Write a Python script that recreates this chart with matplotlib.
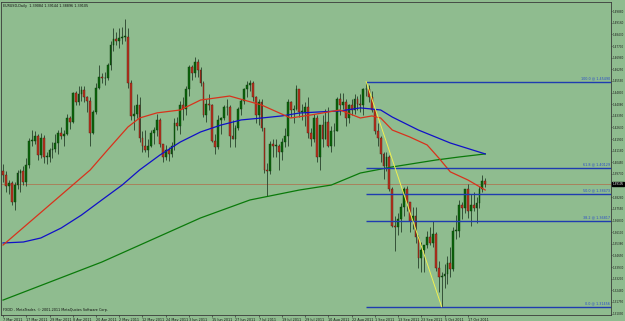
# EURUSD daily candles (MetaTrader style) with three moving averages
# and a Fibonacci retracement from the Aug 29 high to the Oct 4 low.

import numpy as np
import pandas as pd
import matplotlib
matplotlib.use('Agg')
import matplotlib.pyplot as plt

# ── Data (one row per month) ─────────────────────────────────────────────────
dates = pd.bdate_range('2011-03-07', '2011-10-25')

opens = [
    1.3990, 1.3965, 1.3895, 1.3915, 1.3800, 1.3905, 1.3980, 1.3990, 1.3925, 1.4030, 1.4180, 1.4180, 1.4210, 1.4090, 1.4200, 1.4080, 1.4080, 1.4120, 1.4130,
    1.4165, 1.4230, 1.4210, 1.4225, 1.4325, 1.4300, 1.4480, 1.4420, 1.4470, 1.4495, 1.4450, 1.4430, 1.4230, 1.4360, 1.4510, 1.4580, 1.4570, 1.4570, 1.4650, 1.4780, 1.4815,
    1.4805, 1.4820, 1.4830, 1.4830, 1.4540, 1.4335, 1.4350, 1.4400, 1.4200, 1.4150, 1.4120, 1.4150, 1.4230, 1.4250, 1.4310, 1.4160, 1.4080, 1.4120, 1.4100, 1.4150, 1.4290, 1.4270,
    1.4400, 1.4380, 1.4500, 1.4640, 1.4600, 1.4670, 1.4620, 1.4540, 1.4340, 1.4410, 1.4400, 1.4180, 1.4140, 1.4310, 1.4320, 1.4390, 1.4390, 1.4210, 1.4190, 1.4260, 1.4380, 1.4430,
    1.4500, 1.4530, 1.4540, 1.4450, 1.4340, 1.4420, 1.4260, 1.4000, 1.3990, 1.4160, 1.4150, 1.4150, 1.4110, 1.4170, 1.4210, 1.4420, 1.4370, 1.4380, 1.4500, 1.4360, 1.4360,
    1.4390, 1.4230, 1.4190, 1.4320, 1.4080, 1.4280, 1.4190, 1.4300, 1.4150, 1.4240, 1.4240, 1.4440, 1.4400, 1.4420, 1.4320, 1.4400, 1.4370, 1.4440, 1.4410, 1.4400, 1.4500, 1.4500, 1.4450,
    1.4370, 1.4240, 1.4200, 1.4100, 1.4020, 1.4080, 1.3880, 1.3650, 1.3640, 1.3690, 1.3770, 1.3880, 1.3800, 1.3680, 1.3710, 1.3580, 1.3450, 1.3500, 1.3530, 1.3580, 1.3540, 1.3600,
    1.3390, 1.3330, 1.3340, 1.3350, 1.3420, 1.3380, 1.3620, 1.3620, 1.3780, 1.3760, 1.3880, 1.3740, 1.3780, 1.3760, 1.3790, 1.3880, 1.3930,
]
highs = [
    1.4035, 1.3990, 1.3935, 1.3930, 1.3925, 1.4000, 1.4005, 1.4025, 1.4075, 1.4195, 1.4250, 1.4240, 1.4220, 1.4230, 1.4215, 1.4110, 1.4135, 1.4170, 1.4220,
    1.4250, 1.4265, 1.4250, 1.4350, 1.4335, 1.4485, 1.4490, 1.4520, 1.4520, 1.4520, 1.4460, 1.4450, 1.4375, 1.4540, 1.4650, 1.4600, 1.4610, 1.4665, 1.4800, 1.4880, 1.4860,
    1.4880, 1.4890, 1.4940, 1.4880, 1.4560, 1.4400, 1.4470, 1.4450, 1.4240, 1.4250, 1.4190, 1.4250, 1.4265, 1.4345, 1.4320, 1.4160, 1.4155, 1.4140, 1.4175, 1.4320, 1.4330, 1.4425,
    1.4450, 1.4520, 1.4650, 1.4650, 1.4700, 1.4690, 1.4640, 1.4550, 1.4440, 1.4470, 1.4410, 1.4220, 1.4340, 1.4330, 1.4405, 1.4440, 1.4400, 1.4310, 1.4280, 1.4390, 1.4440, 1.4510,
    1.4550, 1.4560, 1.4550, 1.4460, 1.4440, 1.4440, 1.4260, 1.4040, 1.4180, 1.4190, 1.4190, 1.4160, 1.4200, 1.4260, 1.4440, 1.4430, 1.4400, 1.4530, 1.4500, 1.4410, 1.4420,
    1.4450, 1.4260, 1.4350, 1.4340, 1.4280, 1.4340, 1.4380, 1.4390, 1.4270, 1.4290, 1.4450, 1.4480, 1.4480, 1.4440, 1.4410, 1.4440, 1.4470, 1.4460, 1.4470, 1.4510, 1.4549, 1.4530, 1.4490,
    1.4380, 1.4290, 1.4210, 1.4110, 1.4110, 1.4090, 1.3890, 1.3710, 1.3730, 1.3790, 1.3890, 1.3900, 1.3800, 1.3770, 1.3770, 1.3590, 1.3550, 1.3530, 1.3620, 1.3640, 1.3680, 1.3610,
    1.3430, 1.3360, 1.3410, 1.3460, 1.3520, 1.3640, 1.3720, 1.3810, 1.3800, 1.3880, 1.3910, 1.3850, 1.3860, 1.3830, 1.3900, 1.3965, 1.3945,
]
lows = [
    1.3925, 1.3860, 1.3850, 1.3780, 1.3750, 1.3880, 1.3860, 1.3905, 1.3900, 1.4010, 1.4150, 1.4160, 1.4060, 1.4075, 1.4040, 1.4035, 1.4045, 1.4075, 1.4110,
    1.4100, 1.4190, 1.4150, 1.4215, 1.4255, 1.4290, 1.4400, 1.4400, 1.4430, 1.4420, 1.4360, 1.4150, 1.4220, 1.4350, 1.4500, 1.4540, 1.4530, 1.4560, 1.4620, 1.4740, 1.4780,
    1.4760, 1.4785, 1.4800, 1.4510, 1.4310, 1.4250, 1.4320, 1.4170, 1.4110, 1.4110, 1.4080, 1.4140, 1.4160, 1.4210, 1.4140, 1.4050, 1.4060, 1.4055, 1.4080, 1.4120, 1.4250, 1.4220,
    1.4310, 1.4340, 1.4460, 1.4560, 1.4580, 1.4575, 1.4520, 1.4330, 1.4300, 1.4370, 1.4170, 1.4100, 1.4130, 1.4220, 1.4310, 1.4340, 1.4140, 1.4190, 1.4140, 1.4250, 1.4340, 1.4410,
    1.4450, 1.4490, 1.4430, 1.4290, 1.4280, 1.4240, 1.3980, 1.3837, 1.3970, 1.4080, 1.4080, 1.4000, 1.4060, 1.4140, 1.4150, 1.4330, 1.4290, 1.4370, 1.4330, 1.4310, 1.4270,
    1.4200, 1.4150, 1.4170, 1.4050, 1.4000, 1.4140, 1.4190, 1.4140, 1.4110, 1.4150, 1.4240, 1.4340, 1.4380, 1.4270, 1.4290, 1.4340, 1.4350, 1.4370, 1.4360, 1.4340, 1.4460, 1.4420, 1.4360,
    1.4220, 1.4150, 1.4050, 1.3940, 1.3990, 1.3870, 1.3640, 1.3495, 1.3590, 1.3610, 1.3710, 1.3740, 1.3610, 1.3630, 1.3540, 1.3385, 1.3360, 1.3360, 1.3510, 1.3530, 1.3520, 1.3370,
    1.3240, 1.3146, 1.3260, 1.3290, 1.3330, 1.3370, 1.3570, 1.3580, 1.3690, 1.3730, 1.3700, 1.3650, 1.3740, 1.3670, 1.3760, 1.3860, 1.3890,
]
closes = [
    1.3965, 1.3895, 1.3915, 1.3800, 1.3905, 1.3980, 1.3990, 1.3925, 1.4030, 1.4180, 1.4180, 1.4210, 1.4090, 1.4200, 1.4080, 1.4080, 1.4120, 1.4130, 1.4165,
    1.4230, 1.4210, 1.4225, 1.4325, 1.4300, 1.4480, 1.4420, 1.4470, 1.4495, 1.4450, 1.4430, 1.4230, 1.4360, 1.4510, 1.4580, 1.4570, 1.4570, 1.4650, 1.4780, 1.4815, 1.4805,
    1.4820, 1.4830, 1.4830, 1.4540, 1.4335, 1.4350, 1.4400, 1.4200, 1.4150, 1.4120, 1.4150, 1.4230, 1.4250, 1.4310, 1.4160, 1.4080, 1.4120, 1.4100, 1.4150, 1.4290, 1.4270, 1.4400,
    1.4380, 1.4500, 1.4640, 1.4600, 1.4670, 1.4620, 1.4540, 1.4340, 1.4410, 1.4400, 1.4180, 1.4140, 1.4310, 1.4320, 1.4390, 1.4390, 1.4210, 1.4190, 1.4260, 1.4380, 1.4430, 1.4500,
    1.4530, 1.4540, 1.4450, 1.4340, 1.4420, 1.4260, 1.4000, 1.3990, 1.4160, 1.4150, 1.4150, 1.4110, 1.4170, 1.4210, 1.4420, 1.4370, 1.4380, 1.4500, 1.4360, 1.4360, 1.4390,
    1.4230, 1.4190, 1.4320, 1.4080, 1.4280, 1.4190, 1.4300, 1.4150, 1.4240, 1.4240, 1.4440, 1.4400, 1.4420, 1.4320, 1.4400, 1.4370, 1.4440, 1.4410, 1.4400, 1.4500, 1.4500, 1.4450, 1.4370,
    1.4240, 1.4200, 1.4100, 1.4020, 1.4080, 1.3880, 1.3650, 1.3640, 1.3690, 1.3770, 1.3880, 1.3800, 1.3680, 1.3710, 1.3580, 1.3450, 1.3500, 1.3530, 1.3580, 1.3540, 1.3600, 1.3390,
    1.3330, 1.3340, 1.3350, 1.3420, 1.3380, 1.3620, 1.3620, 1.3780, 1.3760, 1.3880, 1.3740, 1.3780, 1.3760, 1.3790, 1.3880, 1.3930, 1.3910,
]

# Moving averages (bar index, price)
ma_red_idx = [0, 10, 20, 30, 36, 43, 47, 53, 61, 68, 78, 89, 99, 106, 116, 123, 127, 130, 134, 140, 146, 150, 154, 160, 166]
ma_red = [1.3530, 1.3686, 1.3842, 1.3998, 1.4123, 1.4266, 1.4322, 1.4354, 1.4372, 1.4434, 1.4459, 1.4403, 1.4322, 1.4341, 1.4372,
          1.4322, 1.4335, 1.4322, 1.4247, 1.4204, 1.4154, 1.4073, 1.3986, 1.3936, 1.3873]
ma_blue_idx = [0, 7, 13, 20, 27, 34, 41, 47, 54, 61, 68, 75, 82, 89, 96, 102, 109, 116, 123, 127, 130, 134, 143, 154, 166]
ma_blue = [1.3543, 1.3549, 1.3574, 1.3636, 1.3717, 1.3811, 1.3904, 1.3998, 1.4091, 1.4172, 1.4235, 1.4278, 1.4310, 1.4322,
           1.4335, 1.4353, 1.4360, 1.4366, 1.4385, 1.4378, 1.4372, 1.4328, 1.4247, 1.4166, 1.4098]
ma_green_idx = [0, 34, 68, 85, 102, 113, 123, 134, 149, 157, 166]
ma_green = [1.3187, 1.3424, 1.3699, 1.3811, 1.3873, 1.3904, 1.3979, 1.4017, 1.4060, 1.4079, 1.4098]

# Fibonacci retracement (Aug 29 high -> Oct 4 low)
fib_high, fib_low = 1.45490, 1.31456
fib_start, fib_end = 125, 151
fib_levels = [100.0, 61.8, 50.0, 38.2, 0.0]

price_ticks = [1.49880, 1.49160, 1.48430, 1.47700, 1.46980, 1.46250, 1.45530, 1.44800, 1.44080,
               1.43350, 1.42630, 1.41900, 1.41180, 1.40450, 1.39730, 1.38280, 1.37550, 1.36830,
               1.36100, 1.35380, 1.34650, 1.33930, 1.33200, 1.32480, 1.31750, 1.31030]
last_price = 1.39105
title_text = 'EURUSD,Daily  1.39084 1.39144 1.38896 1.39105'
footer_text = 'FXDD - MetaTrader, \u00a9 2001-2011 MetaQuotes Software Corp.'

assert len(opens) == len(highs) == len(lows) == len(closes) == len(dates)

# ── Style ────────────────────────────────────────────────────────────────────
BG = '#8FBC8F'
BULL = '#0b650b'
BEAR = '#b8321f'
WICK = '#26402a'
FIB = '#1f3cb0'
FS = 2.4      # chart texts
FS_AX = 1.95  # right-hand price scale (only ~13 px of room)

fig = plt.figure(figsize=(6.25, 3.21), dpi=100, facecolor=BG)
ax = fig.add_axes([1 / 625, 6 / 321, 610 / 625, 313 / 321], facecolor=BG)

x = np.arange(len(dates))
o = np.array(opens); h = np.array(highs); l = np.array(lows); c = np.array(closes)
up = c >= o

# ── Candles ──────────────────────────────────────────────────────────────────
ax.vlines(x, l, h, color=WICK, lw=0.6, zorder=2)
body_lo = np.minimum(o, c)
body_h = np.maximum(np.abs(c - o), 0.0003)
ax.bar(x[up], body_h[up], 0.62, bottom=body_lo[up], color=BULL,
       edgecolor='#0a3a0a', lw=0.3, zorder=3)
ax.bar(x[~up], body_h[~up], 0.62, bottom=body_lo[~up], color=BEAR,
       edgecolor='#5a1a10', lw=0.3, zorder=3)

# ── Moving averages ──────────────────────────────────────────────────────────
ax.plot(ma_green_idx, ma_green, color='#0a7a0a', lw=0.9, zorder=4)
ax.plot(ma_blue_idx, ma_blue, color='#1010c8', lw=0.9, zorder=4)
ax.plot(ma_red_idx, ma_red, color='#d8321c', lw=0.9, zorder=4)

# ── Fibonacci retracement ────────────────────────────────────────────────────
xmax = 209.3
for lev in fib_levels:
    p = fib_low + (fib_high - fib_low) * lev / 100
    ax.plot([fib_start, xmax], [p, p], color=FIB, lw=1.0, zorder=5,
            solid_capstyle='butt')
    ax.text(xmax - 0.4, p + 0.0009, f'{lev:.1f} @ {p:.5f}', color='#2a4acc',
            fontsize=FS, ha='right', va='bottom', zorder=6)
ax.plot([fib_start, fib_end], [fib_high, fib_low], color='#f0f050', lw=0.7, zorder=6)

# current price line
ax.axhline(last_price, color='#a8825c', lw=0.7, zorder=1)

# ── Axes ─────────────────────────────────────────────────────────────────────
ax.set_xlim(-0.7, xmax)
ax.set_ylim(1.30939, 1.50452)
ax.yaxis.tick_right()
ax.set_yticks(price_ticks)
ax.set_yticklabels([f'{t:.5f}' for t in price_ticks])
tick_pos = x[::8]
ax.set_xticks(tick_pos)
ax.set_xticklabels([f'{d.day} {d:%b %Y}' for d in dates[::8]], ha='left')
ax.tick_params(axis='x', labelsize=FS, length=1.5, width=0.4, pad=0.8,
               colors='#1a1a1a')
ax.tick_params(axis='y', labelsize=FS_AX, length=1.0, width=0.4, pad=0.4,
               colors='#1a1a1a')
for s in ax.spines.values():
    s.set_color('#3a3a3a')
    s.set_linewidth(0.6)

ax.annotate(f'{last_price:.5f}', xy=(1.0, last_price), xycoords=('axes fraction', 'data'),
            xytext=(1.1, 0), textcoords='offset points', fontsize=FS_AX, color='white',
            va='center', ha='left',
            bbox=dict(boxstyle='square,pad=0.15', fc='black', ec='black'),
            annotation_clip=False, zorder=7)

ax.text(0.003, 0.993, title_text, transform=ax.transAxes, fontsize=FS,
        color='#101010', va='top', ha='left')
ax.text(0.003, 0.008, footer_text, transform=ax.transAxes, fontsize=FS,
        color='#101010', va='bottom', ha='left')

fig.savefig('out.png', dpi=100, facecolor=BG)
